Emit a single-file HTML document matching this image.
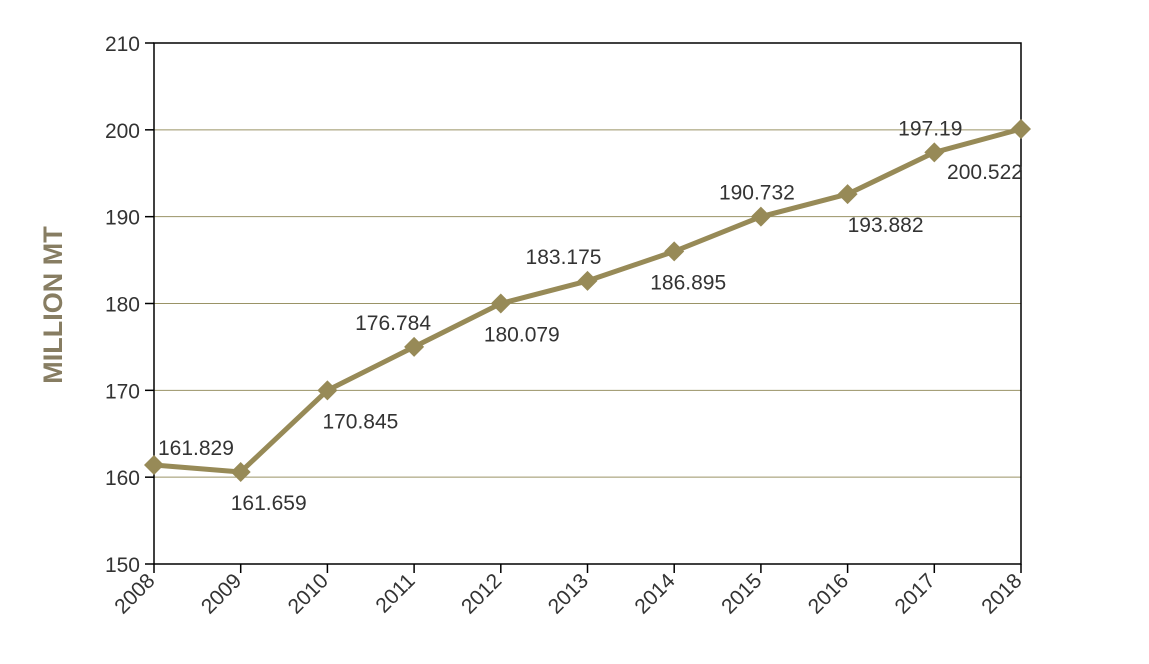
<!DOCTYPE html>
<html><head><meta charset="utf-8"><style>
body{margin:0;background:#fff;}
svg{display:block;font-family:"Liberation Sans",sans-serif;}
</style></head><body>
<svg id="chart" width="1149" height="664" viewBox="0 0 1149 664"></svg>
<script>
const years=["2008","2009","2010","2011","2012","2013","2014","2015","2016","2017","2018"];
const plotted=[161.4,160.6,170.0,175.0,180.0,182.6,186.0,190.0,192.6,197.4,200.1];
const labels=["161.829","161.659","170.845","176.784","180.079","183.175","186.895","190.732","193.882","197.19","200.522"];
const labelPos=["ar","b","b","a","b","a","b","a","b","a","bl"];
const yTicks=[150,160,170,180,190,200,210];
const NS="http://www.w3.org/2000/svg";
const svg=document.getElementById('chart');
const L=154,R=1021,T=43,B=564;
const dxLayout=[0,28,33,-21,21,-24,14,-4,38,-4,0];
const x=i=>L+(R-L)*i/(years.length-1);
const y=v=>B-(B-T)*(v-150)/60;
function el(t,a,p){const e=document.createElementNS(NS,t);for(const k in a)e.setAttribute(k,a[k]);(p||svg).appendChild(e);return e;}
yTicks.forEach(v=>{
  if(v>150&&v<210){const g=el('line',{x1:L,x2:R,y1:y(v),y2:y(v),stroke:'#9a9366','stroke-width':1});
  
  }
  const tk=el('line',{x1:L-9,x2:L,y1:y(v),y2:y(v),stroke:'#000','stroke-width':1.5});
  
  
  const t=el('text',{x:L-14,y:y(v)+8,'text-anchor':'end','font-size':21,fill:'#333'});
  t.textContent=v;
  
  
});
const frame=el('path',{d:`M${L},${T}H${R}V${B}H${L}Z`,fill:'none',stroke:'#000','stroke-width':1.5});


years.forEach((yr,i)=>{
  const tk=el('line',{x1:x(i),x2:x(i),y1:B,y2:B+9,stroke:'#000','stroke-width':1.5});
  
  
  const t=el('text',{x:x(i)+2,y:B+18,'text-anchor':'end','font-size':21,fill:'#333',transform:`rotate(-45 ${x(i)+2} ${B+18})`});
  t.textContent=yr;
  
  
});
const line=el('polyline',{points:plotted.map((v,i)=>x(i)+','+y(v)).join(' '),fill:'none',stroke:'#978a57','stroke-width':5,'stroke-linejoin':'round'});


plotted.forEach((v,i)=>{
  const cx=x(i),cy=y(v),s=10;
  const m=el('path',{d:`M${cx},${cy-s}L${cx+s},${cy}L${cx},${cy+s}L${cx-s},${cy}Z`,fill:'#978a57'});
  
  
  const p=labelPos[i];let tx=cx+dxLayout[i],ty,anc='middle';
  if(p==='a'){ty=cy-17;}
  else if(p==='ar'){ty=cy-10;tx=cx+4;anc='start';}
  else if(p==='bl'){ty=cy+50;tx=cx-36;}
  else{ty=cy+38;}
  const t=el('text',{x:tx,y:ty,'text-anchor':anc,'font-size':21,fill:'#333'});
  t.textContent=labels[i];
  
  
});
const yt=el('text',{x:0,y:0,'text-anchor':'middle','font-size':27,'font-weight':'bold',fill:'#877d62',transform:'translate(62 305) rotate(-90)'});
yt.textContent='MILLION MT';


</script>
</body></html>
